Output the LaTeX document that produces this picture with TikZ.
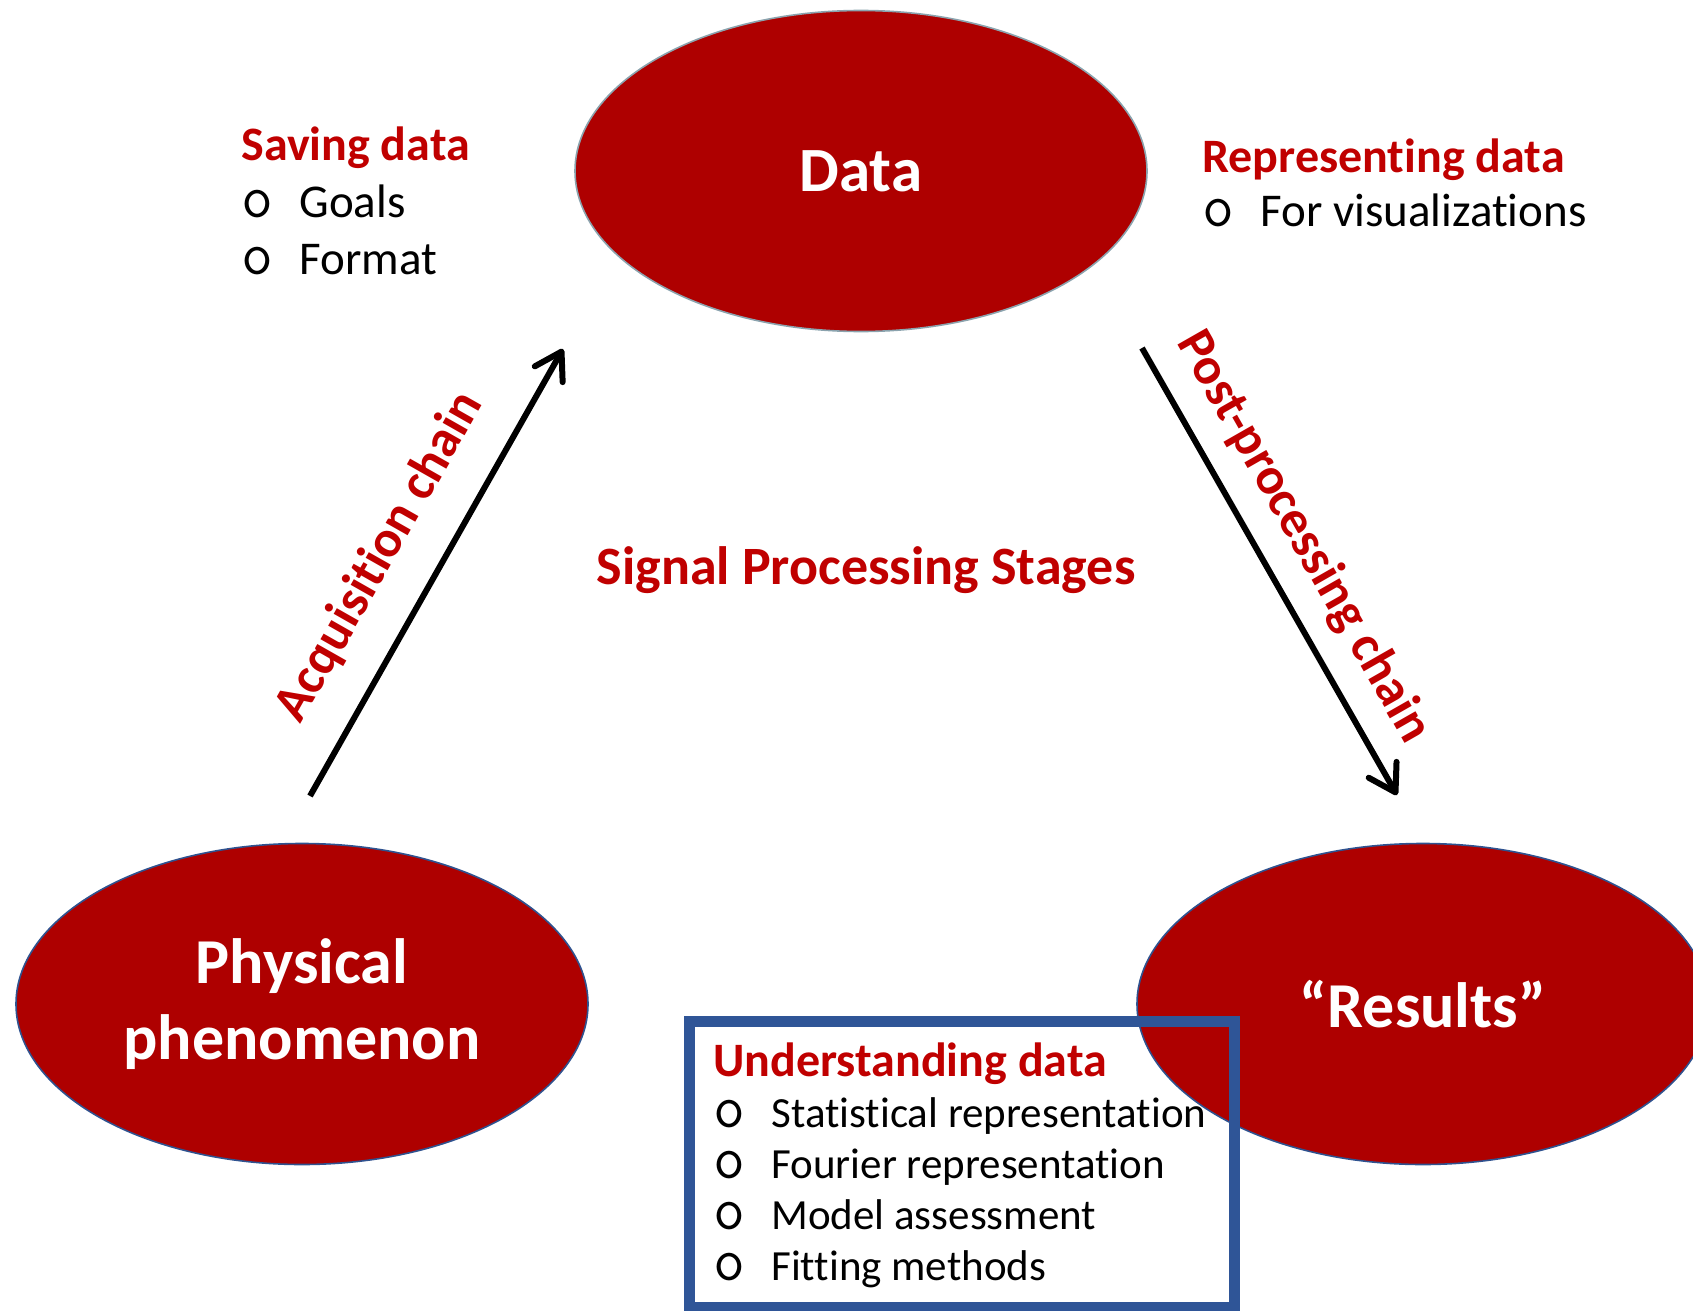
\documentclass[tikz,border=0pt]{standalone}
\usepackage{fontspec}
\setmainfont{Carlito}[Ligatures={TeX,NoCommon}]
\usepackage{tikz}
\usetikzlibrary{shapes.geometric,arrows.meta}
\definecolor{ovalred}{HTML}{AE0000}
\definecolor{headred}{HTML}{C00000}
\definecolor{ovalline}{HTML}{2F528F}
\definecolor{dataline}{HTML}{8BA3AE}
\definecolor{boxblue}{HTML}{2F5597}
\newcommand{\itemo}[1]{\makebox[29pt][l]{\ttfamily\fontsize{31}{20}\selectfont o}#1}

\begin{document}
\begin{tikzpicture}[x=0.5pt,y=-0.5pt,
  stage/.style={ellipse,fill=ovalred,draw=ovalline,line width=0.8pt,
    minimum width=286pt,minimum height=160.5pt,inner sep=0pt,
    text=white,align=center,font=\bfseries\fontsize{32}{38}\selectfont},
  note/.style={anchor=base west,align=left,inner sep=0pt,
    font=\fontsize{23.5}{28.5}\selectfont},
  chainlabel/.style={text=headred,inner sep=0pt,font=\bfseries\fontsize{26}{30}\selectfont},
  chain/.style={line width=3pt,-{Straight Barb[round,length=13pt,width=16pt]}}]
\useasboundingbox (0,0) rectangle (1693,1311);

% the three stages
\node[stage,draw=dataline,font=\bfseries\fontsize{31.5}{38}\selectfont] (data) at (861,171) {Data};
\node[stage] (phys) at (302,1004) {Physical\\phenomenon};
\node[stage] (res) at (1423,1004) {“Results”};

% arrows between stages
\coordinate (acqfrom) at (310,796);
\coordinate (acqto) at (563,349);
\coordinate (postfrom) at (1142,348);
\coordinate (postto) at (1397,795);
\draw[chain] (acqfrom) -- (acqto);
\draw[chain] (postfrom) -- (postto);
\node[chainlabel,rotate=60.4] (acq) at (380,557) {Acquisition chain};
\node[chainlabel,rotate=-60.3] (post) at (1303,537) {Post-processing chain};

\node[text=headred,inner sep=0pt,font=\bfseries\fontsize{27}{32}\selectfont] (title) at (866,570) {Signal Processing Stages};

% notes (anchored at the baseline of their last line)
\node[note] (saving) at (241,274) {{\color{headred}\bfseries\fontsize{24}{28.5}\selectfont Saving data}\\
  \itemo{Goals}\\
  \itemo{Format}};
\node[note,font=\fontsize{23.5}{27.5}\selectfont] (repr) at (1202,227) {{\color{headred}\bfseries\fontsize{24}{27.5}\selectfont Representing data}\\
  \itemo{For visualizations}};

\draw[boxblue,line width=5.5pt] (689,1021) rectangle (1234,1307);
\node[note,font=\fontsize{21.5}{25.5}\selectfont] (under) at (713,1280) {{\color{headred}\bfseries\fontsize{24}{25.5}\selectfont Understanding data}\\
  \itemo{Statistical representation}\\
  \itemo{Fourier representation}\\
  \itemo{Model assessment}\\
  \itemo{Fitting methods}};
\end{tikzpicture}
\end{document}
